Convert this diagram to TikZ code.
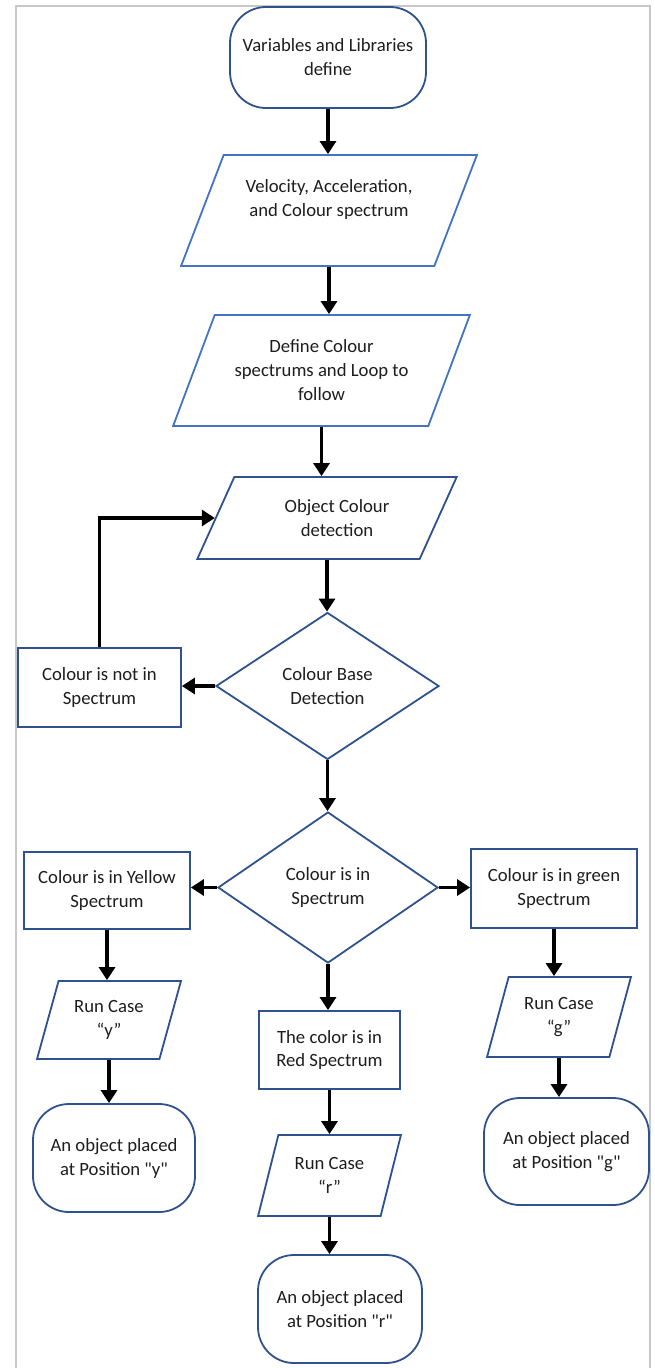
\documentclass[tikz,border=0pt]{standalone}
\usepackage{fontspec}
\setmainfont{Carlito}[Ligatures=TeXOff]
\usetikzlibrary{shapes.geometric,arrows.meta}
\definecolor{bdark}{HTML}{2F528F}
\definecolor{blight}{HTML}{4472C4}
\definecolor{framegray}{HTML}{C8C8C8}
\definecolor{txtcol}{HTML}{1E1E1E}
\newcommand{\sq}{\XeTeXglyph\XeTeXcharglyph"22\relax}
\tikzset{
  base/.style={draw=bdark, line width=1.8pt, fill=white, text=txtcol, align=center,
    font=\fontsize{18.7}{24}\selectfont, inner sep=2pt},
  term/.style={base, rectangle, rounded corners=36pt},
  boxs/.style={base, rectangle},
  para/.style 2 args={base, trapezium, trapezium stretches=true,
    trapezium left angle=#1, trapezium right angle=#2},
  dia/.style={base, diamond},
  sz/.style 2 args={minimum width=#1pt, minimum height=#2pt},
  arr/.style={line width=3.2pt, black, -{Triangle[length=13pt,width=16pt]}},
}
\begin{document}
\begin{tikzpicture}[x=1pt, y=-1pt]
\fill[white] (0,0) rectangle (655,1368);
\useasboundingbox (0,0) rectangle (655,1368);
\draw[framegray, line width=1.5pt] (16,1368) -- (16,6) -- (650,6) -- (650,1368);

\node[term, sz={196}{101}] (t1) at (328,57.5) {Variables and Libraries\\define};
\node[para={62}{118}, sz={296}{111}, draw=blight] (p1) at (329,210.5) {Velocity, Acceleration,\\and Colour spectrum\\\mbox{}};
\node[para={62}{118}, sz={297}{111}, draw=blight] (p2) at (321.5,370.5) {Define Colour\\spectrums and Loop to\\follow};
\node[para={58}{122}, sz={260}{82}] (p3) at (327,518) {\hspace*{20pt}Object Colour\\\hspace*{20pt}detection};
\node[dia, sz={223}{147}] (d1) at (327.5,686) {Colour Base\\Detection};
\node[boxs, sz={163}{79}] (nb) at (99.5,687.5) {Colour is not in\\Spectrum};
\node[dia, sz={220}{151}] (d2) at (328,887.5) {Colour is in\\Spectrum};
\node[boxs, sz={166}{77}] (yb) at (107,890.5) {Colour is in Yellow\\Spectrum};
\node[boxs, sz={166}{79}] (gb) at (554,888.5) {Colour is in green\\Spectrum};
\node[para={70}{110}, sz={144}{78}] (py) at (109,1020) {Run Case\\“y”};
\node[term, sz={162}{108}] (ty) at (114,1158) {An object placed\\at Position \sq y\sq};
\node[boxs, sz={141}{78}] (rb) at (329.5,1050) {The color is in\\Red Spectrum};
\node[para={70}{110}, sz={143}{81}] (pr) at (329.5,1175.5) {Run Case\\“r”};
\node[term, sz={164}{108}] (tr) at (340,1309) {An object placed\\at Position \sq r\sq};
\node[para={70}{110}, sz={144}{80}] (pg) at (559,1017) {Run Case\\“g”};
\node[term, sz={165}{107}] (tg) at (566.5,1151.5) {An object placed\\at Position \sq g\sq};

\draw[arr] (t1.south) -- (t1.south |- p1.north);
\draw[arr] (p1.south) -- (p1.south |- p2.north);
\draw[arr] (p2.south) -- (p2.south |- p3.north);
\draw[arr] (p3.south) -- (p3.south |- d1.north);
\draw[arr] (d1.west) -- (d1.west -| nb.east);
\draw[arr] (nb.north) |- (p3.left side);
\draw[arr] (d1.south) -- (d1.south |- d2.north);
\draw[arr] (d2.west) -- (d2.west -| yb.east);
\draw[arr] (d2.east) -- (d2.east -| gb.west);
\draw[arr] (d2.south) -- (d2.south |- rb.north);
\draw[arr] (yb.south) -- (yb.south |- py.north);
\draw[arr] (py.south) -- (py.south |- ty.north);
\draw[arr] (rb.south) -- (rb.south |- pr.north);
\draw[arr] (pr.south) -- (pr.south |- tr.north);
\draw[arr] (gb.south) -- (gb.south |- pg.north);
\draw[arr] (pg.south) -- (pg.south |- tg.north);
\end{tikzpicture}
\end{document}
